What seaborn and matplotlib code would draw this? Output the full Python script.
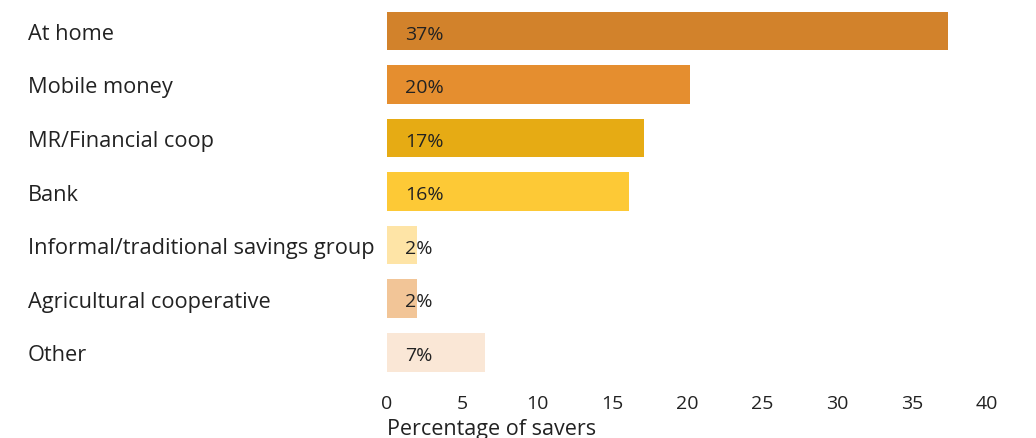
import matplotlib
matplotlib.use("Agg")
import matplotlib.pyplot as plt
import seaborn as sns
import pandas as pd

categories = ["At home", "Mobile money", "MR/Financial coop", "Bank",
              "Informal/traditional savings group", "Agricultural cooperative", "Other"]
values = [37.4, 20.2, 17.1, 16.1, 2.0, 2.0, 6.5]
value_labels = ["37%", "20%", "17%", "16%", "2%", "2%", "7%"]
colors = ["#D2822B", "#E58E2F", "#E6AB14", "#FDC936", "#FEE4A6", "#F2C597", "#FAE7D6"]
xticks = [0, 5, 10, 15, 20, 25, 30, 35, 40]
xlabel = "Percentage of savers"

sns.set_theme(style="white")
plt.rcParams["font.family"] = ["Open Sans", "DejaVu Sans"]

df = pd.DataFrame({"category": categories, "value": values})

fig = plt.figure(figsize=(10.36, 4.39), dpi=100)
ax = fig.add_axes([387/1036, 1 - 380/439, (987 - 387)/1036, (380 - 5)/439])

sns.barplot(data=df, x="value", y="category", hue="category", palette=colors,
            legend=False, width=0.72, ax=ax, saturation=1, linewidth=0)

ax.set_xlim(0, 40)
ax.set_xticks(xticks)
ax.set_xticklabels([str(t) for t in xticks], fontsize=14, color="#222222")
ax.set_ylabel("")
ax.set_xlabel(xlabel, fontsize=15.5, color="#222222", loc="left", labelpad=4)
for s in ax.spines.values():
    s.set_visible(False)
ax.tick_params(axis="both", length=0)
ax.tick_params(axis="x", pad=11)

pad_pt = (387 - 28) * 72 / 100
ax.tick_params(axis="y", pad=pad_pt)
for lbl in ax.get_yticklabels():
    lbl.set_horizontalalignment("left")
    lbl.set_fontsize(15.7)
    lbl.set_color("#222222")

for i, (v, lab) in enumerate(zip(values, value_labels)):
    ax.annotate(lab, xy=(0, i), xytext=(13, -2), textcoords="offset points",
                va="center", ha="left", fontsize=14, color="#222222")

fig.savefig("out.png", dpi=100)
